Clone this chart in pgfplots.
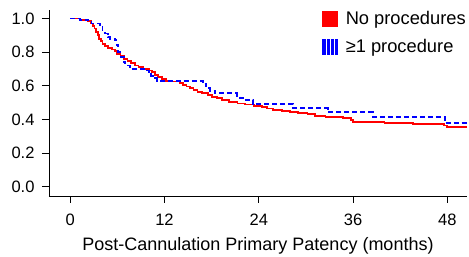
\documentclass[border=0pt]{standalone}
\usepackage{fontspec}
\setmainfont{Liberation Sans}
\usepackage{pgfplots}
\pgfplotsset{compat=1.18}
\begin{document}
\begin{tikzpicture}[x=1pt,y=1pt]
\useasboundingbox (-49,-61) rectangle (420,196);
\begin{axis}[
  at={(0,0)}, anchor=south west,
  scale only axis, width=418pt, height=186pt,
  xmin=-2.7, xmax=50.5, ymin=-0.055, ymax=1.05,
  axis lines*=left,
  axis line style={line width=0.9pt},
  tick align=outside, major tick length=7pt,
  tick style={line width=0.9pt, black},
  xtick={0,12,24,36,48},
  ytick={0,0.2,0.4,0.6,0.8,1.0},
  yticklabel style={xshift=-4pt, /pgf/number format/.cd, fixed, fixed zerofill, precision=1},
  /pgf/number format/assume math mode=true,
  ticklabel style={font=\fontsize{16.5}{18}\selectfont},
  xticklabel style={yshift=-7pt},
  xlabel={Post-Cannulation Primary Patency (months)},
  xlabel style={font=\fontsize{18}{20}\selectfont, yshift=-5pt},
  legend cell align=left,
  legend style={draw=none, fill=none, at={(0.6535,1.003)}, anchor=north west,
    font=\fontsize{18.3}{20}\selectfont, row sep=9pt, inner sep=0pt,
    /tikz/every odd column/.append style={column sep=6pt}},
]
\addlegendimage{legend image code/.code={\fill[red] (0pt,-7.5pt) rectangle (15pt,7.5pt);}}
\addlegendentry{No procedures}
\addlegendimage{legend image code/.code={\foreach \i in {0,4.2,8.4,12.6} \fill[blue] (\i pt,-7.5pt) rectangle ({\i pt+2.3pt},7.5pt);}}
\addlegendentry{≥1 procedure}
\addplot[const plot, red, line width=1.8pt, forget plot] coordinates {
(0,1.0) (1.2,0.99) (2.2,0.985) (2.6,0.97) (2.9,0.955) (3.1,0.94) (3.3,0.92)
(3.5,0.90) (3.7,0.88) (3.9,0.865) (4.1,0.85) (4.4,0.835) (4.8,0.825) (5.3,0.815)
(5.7,0.805) (6.0,0.79) (6.4,0.775) (6.8,0.76) (7.3,0.745) (7.7,0.735) (8.2,0.72)
(8.7,0.71) (9.3,0.70) (10.0,0.69) (10.4,0.68) (10.8,0.665) (11.2,0.65) (11.7,0.64)
(12.2,0.63) (13.0,0.625) (13.9,0.615) (14.4,0.605) (14.8,0.595) (15.2,0.585)
(15.7,0.575) (16.2,0.565) (16.8,0.555) (17.5,0.545) (18.0,0.535) (18.7,0.525)
(19.3,0.515) (20.2,0.505) (21.3,0.495) (22.2,0.488) (23.4,0.48) (24.4,0.472)
(25.0,0.465) (25.8,0.458) (27.0,0.452) (28.0,0.446) (29.0,0.44) (30.2,0.43)
(31.2,0.422) (32.5,0.416) (34.7,0.408) (35.7,0.395) (36.0,0.386) (40.0,0.378)
(43.6,0.372) (47.6,0.364) (48.0,0.354) (50.5,0.354)
};
\addplot[const plot, blue, line width=1.8pt, dash pattern=on 5pt off 3pt, forget plot] coordinates {
(0,1.0) (1.2,0.99) (2.3,0.98) (2.7,0.97) (3.8,0.955) (4.1,0.93) (4.4,0.91)
(4.8,0.89) (5.1,0.88) (5.7,0.87) (5.9,0.84) (6.1,0.80) (6.4,0.77) (6.8,0.74)
(7.0,0.72) (7.6,0.70) (9.6,0.69) (10.0,0.675) (10.3,0.66) (10.7,0.645) (11.0,0.63)
(16.9,0.61) (17.3,0.585) (17.8,0.57) (18.4,0.555) (21.2,0.54) (21.6,0.525)
(22.0,0.515) (23.3,0.49) (28.4,0.466) (32.8,0.442) (38.5,0.416) (47.7,0.379) (50.5,0.379)
};
\end{axis}
\end{tikzpicture}
\end{document}
